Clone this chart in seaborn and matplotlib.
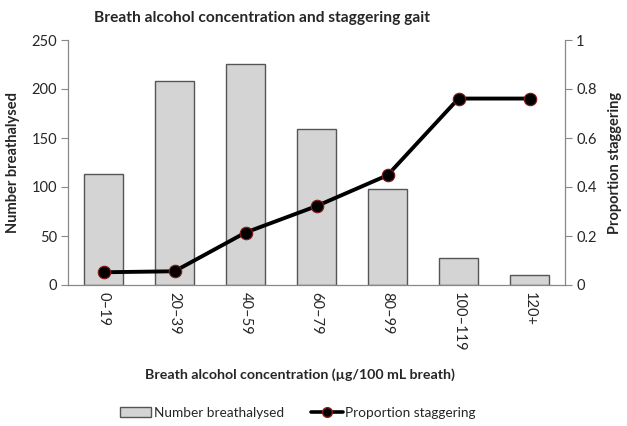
import matplotlib
matplotlib.use("Agg")
import matplotlib.pyplot as plt
import seaborn as sns
import numpy as np
import pandas as pd
from matplotlib.patches import Patch
from matplotlib.lines import Line2D

categories = ["0\u201319", "20\u201339", "40\u201359", "60\u201379", "80\u201399", "100\u2013119", "120+"]
number_breathalysed = [113, 208, 226, 159, 98, 28, 10]
proportion_staggering = [0.052, 0.056, 0.214, 0.322, 0.448, 0.761, 0.761]
left_ticks = [0, 50, 100, 150, 200, 250]
right_ticks = [0, 0.2, 0.4, 0.6, 0.8, 1]
right_ticklabels = ["0", "0.2", "0.4", "0.6", "0.8", "1"]

sns.set_theme(style="white")
plt.rcParams["font.family"] = ["Lato", "DejaVu Sans"]

df = pd.DataFrame({"cat": categories, "n": number_breathalysed,
                   "p": proportion_staggering, "idx": np.arange(len(categories))})

fig = plt.figure(figsize=(6.27, 4.26), dpi=100)
ax = fig.add_axes([68/627, 1-285/426, (565-68)/627, (285-40)/426])

sns.barplot(data=df, x="cat", y="n", ax=ax, color="#d4d4d4", width=0.56,
            edgecolor="#555555", linewidth=1.0, saturation=1)
ax.set_xlim(-0.5, len(categories)-0.5)
ax.set_ylim(0, 250)
ax.set_yticks(left_ticks)
ax.set_yticklabels([str(t) for t in left_ticks], fontsize=10.5)
ax.set_xticks(np.arange(len(categories)))
ax.set_xticklabels(categories, rotation=270, fontsize=10.5, va="top", ha="center")
ax.tick_params(axis="x", length=0, pad=5)
ax.tick_params(axis="y", left=True, length=5, width=0.8, color="#888888", pad=3)
ax.set_xlabel("Breath alcohol concentration (\u00b5g/100 mL breath)", fontsize=10.2,
              fontweight="bold")
ax.xaxis.set_label_coords((300-68)/(565-68), -(375-285)/245)
ax.xaxis.label.set_va("center")
ax.set_ylabel("Number breathalysed", fontsize=10.5, fontweight="bold", labelpad=8)

ax2 = ax.twinx()
sns.lineplot(data=df, x="idx", y="p", ax=ax2, color="black", linewidth=2.8,
             marker="o", markersize=9, markerfacecolor="black",
             markeredgecolor="#8b1a1a", markeredgewidth=0.8)
ax2.set_xlim(-0.5, len(categories)-0.5)
ax2.set_ylim(0, 1)
ax2.set_yticks(right_ticks)
ax2.set_yticklabels(right_ticklabels, fontsize=10.5)
ax2.tick_params(axis="y", right=True, length=5, width=0.8, color="#888888", pad=3)
ax2.set_ylabel("Proportion staggering", fontsize=10.5, fontweight="bold", labelpad=8)
ax2.set_xlabel("")

for a in (ax, ax2):
    a.spines["top"].set_visible(False)
    for s in ("left", "right", "bottom"):
        a.spines[s].set_color("#888888")
        a.spines[s].set_linewidth(0.9)
ax.spines["right"].set_visible(False)
ax2.spines["left"].set_visible(False)
ax2.spines["bottom"].set_visible(False)

fig.text(262/627, 1-18/426, "Breath alcohol concentration and staggering gait",
         fontsize=11.2, fontweight="bold", ha="center", va="center")

handles = [Patch(facecolor="#d4d4d4", edgecolor="#555555", linewidth=1.0),
           Line2D([0], [0], color="black", linewidth=2.6, marker="o", markersize=7,
                  markerfacecolor="black", markeredgecolor="#8b1a1a")]
fig.legend(handles, ["Number breathalysed", "Proportion staggering"], loc="center",
           bbox_to_anchor=(298/627, 1-413/426), ncol=2, frameon=False, fontsize=9.8,
           handlelength=2.3, columnspacing=2.0, handletextpad=0.2)

fig.savefig("out.png", dpi=100)
